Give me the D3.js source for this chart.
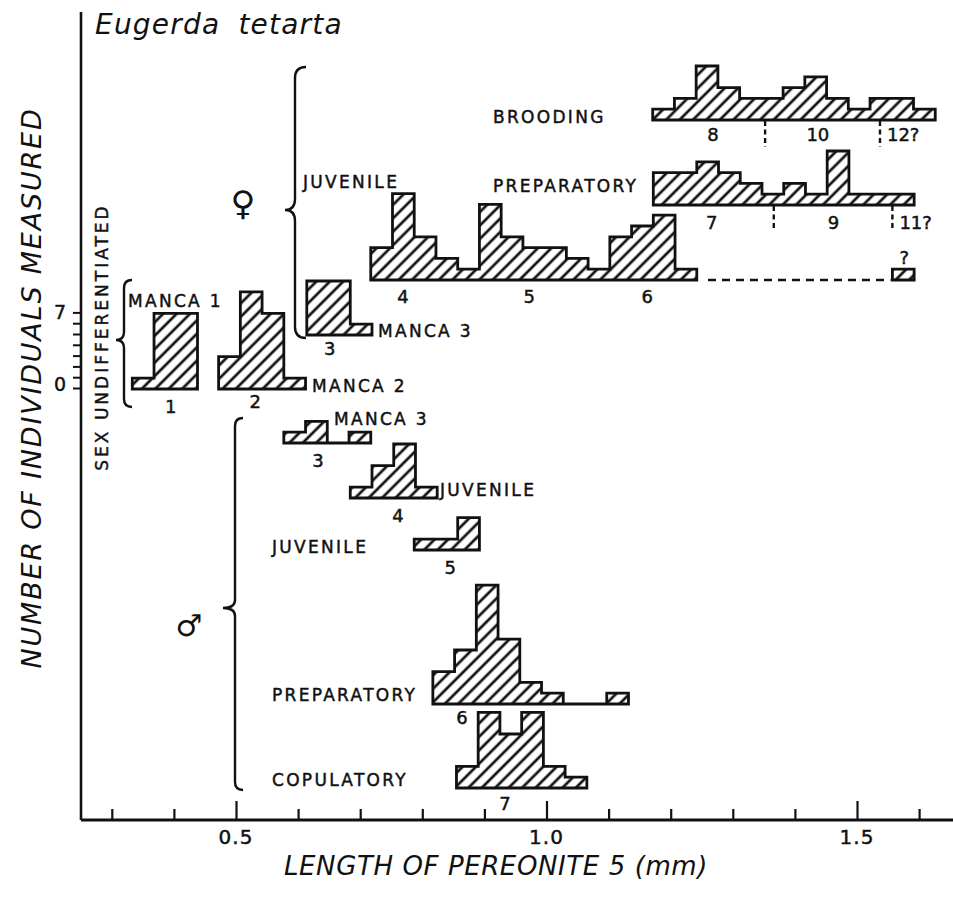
<!DOCTYPE html>
<html>
<head>
<meta charset="utf-8">
<script src="https://cdn.jsdelivr.net/npm/d3@7/dist/d3.min.js"></script>
<style>
  body { margin: 0; background: #fff; }
  text { font-family: "DejaVu Sans", sans-serif; fill: #111; }
  .ink { stroke: #111; stroke-width: 0.45px; }
</style>
</head>
<body>
<div class="chart"></div>
<script>
// width of one length class (mm)
const binWidth = 0.035

// sex undifferentiated
const manca1Start = 0.333
const manca1Counts = [1, 7, 7]
const manca2Start = 0.472
const manca2Counts = [3, 9, 7, 1]

// females
const fManca3Start = 0.614
const fManca3Counts = [5, 5, 1]
const fJuvStart = 0.717
const fJuvCounts = [3, 8, 4, 2, 1, 7, 4, 3, 3, 2, 1, 4, 5, 6, 1]
const fOddStart = 1.557
const fOddCounts = [1]
const fPrepStart = 1.172
const fPrepCounts = [3, 3, 4, 3, 2, 1, 2, 1, 5, 1, 1, 1]
const broodStart = 1.171
const broodCounts = [1, 2, 5, 3, 2, 2, 3, 4, 2, 1, 2, 2, 1]

// males
const mManca3Start = 0.577
const mManca3Counts = [1, 2, 0, 1]
const mJuv4Start = 0.684
const mJuv4Counts = [1, 3, 5, 1]
const mJuv5Start = 0.787
const mJuv5Counts = [1, 1, 3]
const mPrepStart = 0.817
const mPrepCounts = [3, 5, 11, 6, 2, 1, 0, 0, 1]
const copStart = 0.855
const copCounts = [2, 7, 5, 7, 2, 1]

// instar boundaries inside the adult female rows (mm)
const broodBreaks = [1.352, 1.537]
const prepBreaks = [1.366, 1.557]

// axes
const xMajorTicks = [0.5, 1.0, 1.5]
const xMajorLabels = ["0.5", "1.0", "1.5"]
const xMinorTicks = [0.3, 0.4, 0.6, 0.7, 0.8, 0.9, 1.1, 1.2, 1.3, 1.4, 1.6]
const yTicks = [0, 1, 2, 3, 4, 5, 6, 7]
const yLabelTicks = [0, 7]
const yLabels = ["0", "7"]

const W = 953, H = 903
const svg = d3.select(".chart").append("svg").attr("width", W).attr("height", H)

const x = d3.scaleLinear().domain([0.5, 1.5]).range([236, 857])
const unit = d3.scaleLinear().domain([0, 7]).range([0, 75.6])

// hatch fill
svg.append("defs").append("pattern")
  .attr("id", "hatch")
  .attr("patternUnits", "userSpaceOnUse")
  .attr("width", 9.5).attr("height", 9.5)
  .attr("patternTransform", "rotate(45)")
  .append("line")
  .attr("x1", 4.75).attr("y1", 0).attr("x2", 4.75).attr("y2", 9.5)
  .attr("stroke", "#111").attr("stroke-width", 2.7)

// histogram rows: data + where each sits on the page
const hists = [
  {start: manca1Start, counts: manca1Counts, base: 389, num: "1", numAt: 0.395, numDy: 17},
  {start: manca2Start, counts: manca2Counts, base: 389, num: "2", numAt: 0.531, numDy: 12},
  {start: fManca3Start, counts: fManca3Counts, base: 335, num: "3", numAt: 0.651, numDy: 13},
  {start: fJuvStart, counts: fJuvCounts, base: 280, num: null},
  {start: fOddStart, counts: fOddCounts, base: 280, num: null},
  {start: fPrepStart, counts: fPrepCounts, base: 205, num: null},
  {start: broodStart, counts: broodCounts, base: 120, num: null},
  {start: mManca3Start, counts: mManca3Counts, base: 443, num: "3", numAt: 0.632, numDy: 17},
  {start: mJuv4Start, counts: mJuv4Counts, base: 498, num: "4", numAt: 0.761, numDy: 17},
  {start: mJuv5Start, counts: mJuv5Counts, base: 550, num: "5", numAt: 0.845, numDy: 17},
  {start: mPrepStart, counts: mPrepCounts, base: 704, num: "6", numAt: 0.864, numDy: 13},
  {start: copStart, counts: copCounts, base: 788, num: "7", numAt: 0.933, numDy: 15}
]

const area = d3.area()
  .curve(d3.curveStepAfter)
  .x(d => x(d.v))
  .y0(d => d.base)
  .y1(d => d.base - unit(d.c))

function steps(h) {
  const pts = h.counts.map((c, i) => ({v: h.start + i * binWidth, c: c, base: h.base}))
  pts.push({v: h.start + h.counts.length * binWidth, c: h.counts[h.counts.length - 1], base: h.base})
  return pts
}

svg.selectAll(".hist").data(hists).join("path")
  .attr("class", "hist")
  .attr("d", d => area(steps(d)))
  .attr("fill", "url(#hatch)")
  .attr("stroke", "#111")
  .attr("stroke-width", 2.8)
  .attr("stroke-linejoin", "miter")

// instar numbers under the histograms
svg.selectAll(".num").data(hists.filter(d => d.num)).join("text")
  .attr("class", "num ink")
  .attr("x", d => x(d.numAt))
  .attr("y", d => d.base + d.numDy)
  .attr("text-anchor", "middle")
  .attr("dominant-baseline", "central")
  .attr("font-size", 18)
  .text(d => d.num)

// numbers inside the long female rows
const rowNums = [
  {t: "4", v: 0.769, y: 296}, {t: "5", v: 0.972, y: 296}, {t: "6", v: 1.162, y: 296},
  {t: "7", v: 1.266, y: 222}, {t: "9", v: 1.462, y: 222},
  {t: "8", v: 1.268, y: 134}, {t: "10", v: 1.437, y: 134},
  {t: "?", v: 1.576, y: 257}
]
svg.selectAll(".rownum").data(rowNums).join("text")
  .attr("class", "rownum ink")
  .attr("x", d => x(d.v)).attr("y", d => d.y)
  .attr("text-anchor", "middle").attr("dominant-baseline", "central")
  .attr("font-size", 18)
  .text(d => d.t)

svg.selectAll(".qlab").data([{t: "12?", v: broodBreaks[1], y: 134}, {t: "11?", v: prepBreaks[1], y: 222}]).join("text")
  .attr("class", "qlab ink")
  .attr("x", d => x(d.v) + 7).attr("y", d => d.y)
  .attr("dominant-baseline", "central")
  .attr("font-size", 18)
  .text(d => d.t)

// dotted instar boundaries
const breaks = broodBreaks.map(v => ({v, y0: 121, y1: 147})).concat(prepBreaks.map(v => ({v, y0: 206, y1: 230})))
svg.selectAll(".brk").data(breaks).join("line")
  .attr("class", "brk")
  .attr("x1", d => x(d.v)).attr("x2", d => x(d.v))
  .attr("y1", d => d.y0).attr("y2", d => d.y1)
  .attr("stroke", "#111").attr("stroke-width", 2.4)
  .attr("stroke-dasharray", "5,3.5")

// dashed link from juvenile row to the lone "?" animal
svg.append("line")
  .attr("x1", x(1.26)).attr("x2", x(fOddStart) - 2)
  .attr("y1", 280).attr("y2", 280)
  .attr("stroke", "#111").attr("stroke-width", 2.4)
  .attr("stroke-dasharray", "8,6")

// stage names
const stageLabels = [
  {t: "MANCA 1", x: 128, y: 301},
  {t: "MANCA 2", x: 312, y: 386},
  {t: "MANCA 3", x: 378, y: 331},
  {t: "JUVENILE", x: 303, y: 182},
  {t: "PREPARATORY", x: 493, y: 186},
  {t: "BROODING", x: 493, y: 117},
  {t: "MANCA 3", x: 334, y: 419},
  {t: "JUVENILE", x: 440, y: 490},
  {t: "JUVENILE", x: 272, y: 547},
  {t: "PREPARATORY", x: 272, y: 695},
  {t: "COPULATORY", x: 272, y: 780}
]
svg.selectAll(".stage").data(stageLabels).join("text")
  .attr("class", "stage ink")
  .attr("x", d => d.x).attr("y", d => d.y)
  .attr("dominant-baseline", "central")
  .attr("font-size", 17)
  .attr("letter-spacing", 2.3)
  .text(d => d.t)

// braces
function brace(bx, y0, y1, ym, tip, hook) {
  return `M${bx + hook},${y0} Q${bx},${y0} ${bx},${y0 + hook} L${bx},${ym - hook}` +
    ` Q${bx},${ym} ${tip},${ym} Q${bx},${ym} ${bx},${ym + hook} L${bx},${y1 - hook} Q${bx},${y1} ${bx + hook},${y1}`
}
const braces = [
  {bx: 124, y0: 280, y1: 407, ym: 340, tip: 116, hook: 8},
  {bx: 295, y0: 67, y1: 338, ym: 210, tip: 285, hook: 11},
  {bx: 235, y0: 418, y1: 790, ym: 608, tip: 223, hook: 8}
]
svg.selectAll(".brace").data(braces).join("path")
  .attr("class", "brace")
  .attr("d", d => brace(d.bx, d.y0, d.y1, d.ym, d.tip, d.hook))
  .attr("fill", "none").attr("stroke", "#111").attr("stroke-width", 2.4)

// sex symbols
svg.append("text").attr("x", 243).attr("y", 203).attr("text-anchor", "middle")
  .attr("dominant-baseline", "central").attr("font-size", 34).text("\u2640")
svg.append("text").attr("x", 189).attr("y", 625).attr("text-anchor", "middle")
  .attr("dominant-baseline", "central").attr("font-size", 30).text("\u2642")

svg.append("text")
  .attr("class", "ink")
  .attr("transform", "translate(102,337) rotate(-90)")
  .attr("text-anchor", "middle").attr("dominant-baseline", "central")
  .attr("font-size", 17).attr("letter-spacing", 3)
  .text("SEX UNDIFFERENTIATED")

// axes
const axisY = 820
svg.append("line").attr("x1", 81).attr("x2", W).attr("y1", axisY).attr("y2", axisY)
  .attr("stroke", "#111").attr("stroke-width", 2.8)
svg.append("line").attr("x1", 81).attr("x2", 81).attr("y1", 12).attr("y2", axisY)
  .attr("stroke", "#111").attr("stroke-width", 2.6)

const xMinor = svg.append("g").attr("transform", `translate(0,${axisY})`)
  .call(d3.axisBottom(x).tickValues(xMinorTicks).tickSize(-11).tickFormat(""))
const xMajor = svg.append("g").attr("transform", `translate(0,${axisY})`)
  .call(d3.axisBottom(x).tickValues(xMajorTicks).tickSize(-19).tickFormat(""))
;[xMinor, xMajor].forEach(g => {
  g.select(".domain").remove()
  g.selectAll("line").attr("stroke", "#111").attr("stroke-width", 2.2)
})
svg.selectAll(".xlab").data(xMajorTicks).join("text")
  .attr("class", "xlab ink")
  .attr("x", d => x(d)).attr("y", axisY + 17)
  .attr("text-anchor", "middle").attr("dominant-baseline", "central")
  .attr("font-size", 20).attr("letter-spacing", 1)
  .text((d, i) => xMajorLabels[i])

const yCount = d3.scaleLinear().domain([0, 7]).range([388, 388 - unit(7)])
const yAx = svg.append("g").attr("transform", "translate(80,0)")
  .call(d3.axisLeft(yCount).tickValues(yTicks).tickSize(7).tickFormat(""))
yAx.select(".domain").remove()
yAx.selectAll("line").attr("stroke", "#111").attr("stroke-width", 2)
svg.selectAll(".ylab").data(yLabelTicks).join("text")
  .attr("class", "ylab ink")
  .attr("x", 60).attr("y", d => yCount(d) - (d === 0 ? 4 : 0))
  .attr("text-anchor", "middle").attr("dominant-baseline", "central")
  .attr("font-size", 19)
  .text((d, i) => yLabels[i])

// titles
svg.append("text").attr("x", 95).attr("y", 34)
  .attr("font-size", 28).attr("font-style", "italic")
  .attr("letter-spacing", 1.2).attr("word-spacing", 8)
  .text("Eugerda tetarta")

svg.append("text")
  .attr("x", 496).attr("y", 866)
  .attr("text-anchor", "middle").attr("dominant-baseline", "central")
  .attr("font-size", 26).attr("font-style", "italic").attr("letter-spacing", 0.6)
  .text("LENGTH OF PEREONITE 5 (mm)")

svg.append("text")
  .attr("transform", "translate(31,388) rotate(-90)")
  .attr("text-anchor", "middle").attr("dominant-baseline", "central")
  .attr("font-size", 27).attr("font-style", "italic").attr("letter-spacing", 1.8)
  .text("NUMBER OF INDIVIDUALS MEASURED")
</script>
</body>
</html>
